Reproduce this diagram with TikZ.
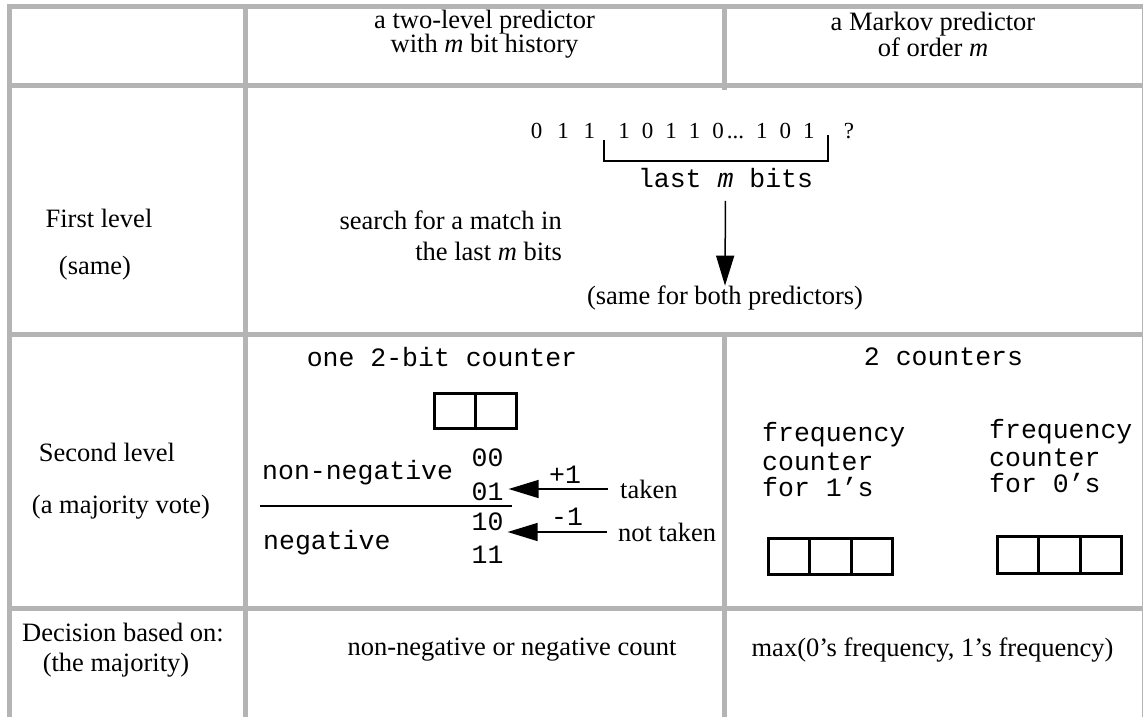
\documentclass[tikz,border=0pt]{standalone}
\usepackage{fontspec}
\setmainfont{Liberation Serif}
\setmonofont{Liberation Mono}
\usetikzlibrary{arrows.meta,calc}
\definecolor{gridgray}{RGB}{180,180,180}
\begin{document}
\begin{tikzpicture}[x=1pt,y=-1pt,
  rm/.style={inner sep=0pt,font=\fontsize{26.5}{30}\selectfont},
  tt/.style={inner sep=0pt,font=\fontsize{26.5}{30}\selectfont\ttfamily},
  digits/.style={inner sep=0pt,font=\fontsize{23}{26}\selectfont},
  gridline/.style={draw=gridgray,line width=5pt},
  cellbox/.style={draw,line width=3.3pt,inner sep=0pt},
  celldiv/.style={line width=3.3pt},
  pointer/.style={line width=1.5pt,-{Triangle[length=30pt,width=18pt]}},
  bracket/.style={line width=2pt},
]
\useasboundingbox (0,0) rectangle (1143,717);

% table rules
\draw[gridline] (7,6.5) -- (1143,6.5);
\draw[gridline] (7,85.5) -- (1143,85.5);
\draw[gridline] (7,334) -- (1143,334);
\draw[gridline] (7,608) -- (1143,608);
\draw[gridline] (9.5,4) -- (9.5,717);
\draw[gridline] (245,4) -- (245,717);
\draw[gridline] (724,4) -- (724,90);
\draw[gridline] (724,334) -- (724,717);
\draw[draw=gridgray,line width=1.5pt] (1142.3,4) -- (1142.3,717);

% header row
\node[rm] (h2a) at (484.5,22) {a two-level predictor};
\node[rm] (h2b) at (484.5,46) {with \textit{m} bit history};
\node[rm] (h3a) at (933,24) {a Markov predictor};
\node[rm] (h3b) at (933,47) {of order \textit{m}};

% first level
\node[rm] (fl1) at (99,218) {First level};
\node[rm] (fl2) at (95,268) {(same)};
\node[digits] (old) at (563,131) {0\hspace{15pt}1\hspace{15pt}1};
\node[digits] (win) at (716.5,131) {1\hspace{12pt}0\hspace{12pt}1\hspace{12pt}1\hspace{12pt}0\hspace{3pt}...\hspace{12pt}1\hspace{12pt}0\hspace{12pt}1};
\node[digits] (q) at (849,131) {?};
\draw[bracket] (604,140) -- (604,161) -- (828,161) -- (828,135);
\node[tt] (lastm) at (725.5,178) {last \textit{m} bits};
\node[rm,anchor=east] (srch1) at (562,220) {search for a match in};
\node[rm,anchor=east] (srch2) at (562,251) {the last \textit{m} bits};
\node[rm] (same) at (725,298) {(same for both predictors)};
\draw[pointer,shorten <=13pt] (lastm.south) -- (same.north);

% second level
\node[rm] (sl1) at (107,452) {Second level};
\node[rm] (sl2) at (121,507) {(a majority vote)};
\node[tt] (one) at (442,357) {one 2-bit counter};
\node[cellbox,minimum width=82pt,minimum height=35pt] (twobit) at (475.5,411) {};
\draw[celldiv] (twobit.north) -- (twobit.south);
\node[tt,anchor=west] (nonneg) at (262,473) {non-negative};
\node[tt,anchor=west] (neg) at (263,543) {negative};
\node[tt] (b00) at (487.5,458) {00};
\node[tt] (b01) at (487.5,492) {01};
\node[tt] (b10) at (487.5,522) {10};
\node[tt] (b11) at (487.5,555) {11};
\coordinate (sepL) at (260,506);
\coordinate (sepR) at (512,506);
\draw[line width=1.5pt] (sepL) -- (sepR);
\node[tt] (plus) at (565,475) {+1};
\node[tt] (minus) at (567,517) {-1};
\node[rm,anchor=west] (taken) at (620,489) {taken};
\node[rm,anchor=west] (ntaken) at (618,532) {not taken};
\draw[pointer] ([xshift=-12pt]taken.west) -- ([xshift=5pt]b01.east |- taken.west);
\draw[pointer] ([xshift=-11pt]ntaken.west) -- ([xshift=4pt]b10.east |- ntaken.west);

\node[tt] (two) at (943.5,357) {2 counters};
\node[tt,anchor=west] (f1a) at (762,435) {frequency};
\node[tt,anchor=west] (f1b) at (762,462) {counter};
\node[tt,anchor=west] (f1c) at (762,487) {for 1’s};
\node[tt,anchor=west] (f0a) at (989,432) {frequency};
\node[tt,anchor=west] (f0b) at (989,458) {counter};
\node[tt,anchor=west] (f0c) at (989,483) {for 0’s};
\node[cellbox,minimum width=123.6pt,minimum height=35.6pt] (ones) at (830.5,556.5) {};
\draw[celldiv] ($(ones.north west)!1/3!(ones.north east)$) -- ($(ones.south west)!1/3!(ones.south east)$);
\draw[celldiv] ($(ones.north west)!2/3!(ones.north east)$) -- ($(ones.south west)!2/3!(ones.south east)$);
\node[cellbox,minimum width=123.6pt,minimum height=36.6pt] (zeros) at (1059.5,555) {};
\draw[celldiv] ($(zeros.north west)!1/3!(zeros.north east)$) -- ($(zeros.south west)!1/3!(zeros.south east)$);
\draw[celldiv] ($(zeros.north west)!2/3!(zeros.north east)$) -- ($(zeros.south west)!2/3!(zeros.south east)$);

% decision row
\node[rm] (dec1) at (123,632) {Decision based on:};
\node[rm] (dec2) at (116,665) {(the majority)};
\node[rm] (cnt) at (512,650) {non-negative or negative count};
\node[rm] (mx) at (932.5,650) {max(0’s frequency, 1’s frequency)};
\end{tikzpicture}
\end{document}
